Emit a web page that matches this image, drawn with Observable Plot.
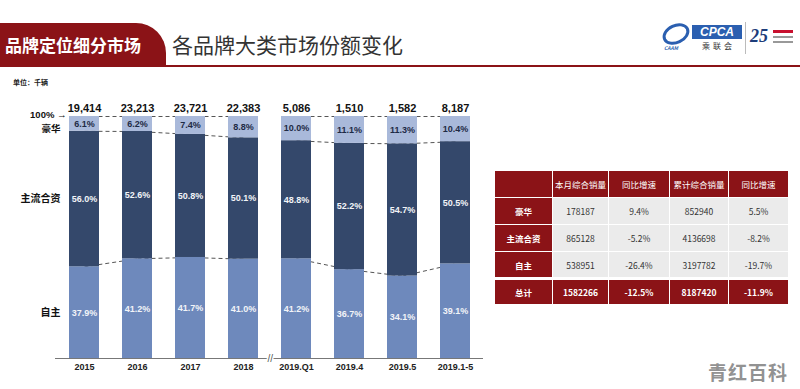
<!DOCTYPE html>
<html><head><meta charset="utf-8">
<script src="https://cdn.jsdelivr.net/npm/d3@7"></script>
<script src="https://cdn.jsdelivr.net/npm/@observablehq/plot@0.6"></script>
<style>
body{margin:0;width:800px;height:389px;overflow:hidden;background:#fff;font-family:"Noto Sans CJK SC","Liberation Sans",sans-serif;position:relative}
.abs{position:absolute}
#banner{left:0;top:23px;width:166px;height:43px;background:#8b1317;border-top-right-radius:30px;color:#fff;font-size:17px;font-weight:bold;line-height:43px;padding-left:5px;box-sizing:border-box;letter-spacing:0px}
#title{left:172px;top:29px;font-size:21px;color:#333;line-height:30px}
#rule{left:0;top:65px;width:800px;height:2px;background:#8b1317}
#unit{left:13px;top:77px;font-size:7px;color:#222;font-weight:bold}
#chart{left:0;top:95px;width:490px;height:290px}
#wm{left:708px;top:358px;font-size:19px;font-weight:bold;color:#929292;letter-spacing:1px}
.cell{position:absolute;display:flex;align-items:center;justify-content:center;font-size:8.5px;box-sizing:border-box}
</style></head><body>
<div id="banner" class="abs">品牌定位细分市场</div>
<div id="title" class="abs">各品牌大类市场份额变化</div>
<div id="rule" class="abs"></div>
<div id="unit" class="abs">单位：千辆</div>
<!-- logo approximation -->
<div class="abs" style="left:662px;top:24px;width:28px;height:20px;border-radius:50%;border:3px solid #2b5fb0;transform:rotate(-25deg);box-sizing:border-box"></div>
<div class="abs" style="left:664px;top:44px;font-size:5px;font-style:italic;font-weight:bold;color:#2b5fb0">CAAM</div>
<div class="abs" style="left:692px;top:25px;width:50px;height:14px;background:#2b5fb0;color:#fff;font:italic bold 12px 'Liberation Sans';line-height:14px;text-align:center">CPCA</div>
<div class="abs" style="left:702px;top:40px;font-size:8px;color:#333;letter-spacing:3px">乘联会</div>
<div class="abs" style="left:745px;top:22px;width:1px;height:32px;background:#bbb"></div>
<div class="abs" style="left:750px;top:26px;font:italic bold 18px 'Liberation Serif';color:#1d3d7a">25</div>
<div class="abs" style="left:773px;top:30px;width:20px;height:3px;background:#c8102e"></div>
<div class="abs" style="left:773px;top:36px;width:20px;height:2px;background:#999"></div>
<div class="abs" style="left:773px;top:41px;width:20px;height:2px;background:#999"></div>
<div id="chart" class="abs"></div>
<div id="table"></div>
<div id="wm" class="abs">青红百科</div>
<script>
// ---- chart data ----
const categories = ["2015","2016","2017","2018","2019.Q1","2019.4","2019.5","2019.1-5"];
const totals = [19414,23213,23721,22383,5086,1510,1582,8187];
const luxury = [6.1,6.2,7.4,8.8,10.0,11.1,11.3,10.4];
const jointVenture = [56.0,52.6,50.8,50.1,48.8,52.2,54.7,50.5];
const domestic = [37.9,41.2,41.7,41.0,41.2,36.7,34.1,39.1];
const seriesNames = ["自主","主流合资","豪华"];
const breakAfter = "2018";

// ---- table data ----
const tableHeader = ["","本月综合销量","同比增速","累计综合销量","同比增速"];
const tableRowNames = ["豪华","主流合资","自主","总计"];
const monthSales = ["178187","865128","538951","1582266"];
const monthYoY = ["9.4%","-5.2%","-26.4%","-12.5%"];
const ytdSales = ["852940","4136698","3197782","8187420"];
const ytdYoY = ["5.5%","-8.2%","-19.7%","-11.9%"];

// build segments
const segs = [];
const levels = [];
categories.forEach((c,i)=>{
  const s = luxury[i]+jointVenture[i]+domestic[i];
  const d = domestic[i]/s, j = (domestic[i]+jointVenture[i])/s;
  segs.push({cat:c, seg:"自主", y1:0, y2:d, v:domestic[i]});
  segs.push({cat:c, seg:"主流合资", y1:d, y2:j, v:jointVenture[i]});
  segs.push({cat:c, seg:"豪华", y1:j, y2:1, v:luxury[i]});
  levels.push([1, j, d]);
});
const links = [];
for (let i=0;i<categories.length-1;i++){
  if (categories[i]===breakAfter) continue;
  for (let k=0;k<3;k++) links.push({a:categories[i], b:categories[i+1], v1:levels[i][k], v2:levels[i+1][k]});
}
const first = segs.filter(d=>d.cat===categories[0]);

const plot = Plot.plot({
  width: 490, height: 290,
  marginTop: 21, marginBottom: 27, marginLeft: 55, marginRight: 7,
  x: {domain: categories, paddingInner: 0.44, paddingOuter: 0.22, label: null, tickSize: 0, tickPadding: 5},
  y: {domain: [0,1], axis: null},
  color: {domain: seriesNames, range: ["#6e89bc","#34486b","#a9b9da"]},
  style: {fontFamily: '"Liberation Sans","Noto Sans CJK SC",sans-serif', fontSize: "9px", fontWeight: "bold", color: "#222", background: "transparent"},
  marks: [
    Plot.link(links, {x1:"a", x2:"b", y1:"v1", y2:"v2", curve:"linear", stroke:"#555", strokeWidth:1, strokeDasharray:"4,3"}),
    Plot.barY(segs, {x:"cat", y1:"y1", y2:"y2", fill:"seg"}),
    Plot.ruleY([0], {stroke:"#777", strokeWidth:1}),
    Plot.text([breakAfter], {x: d=>d, y: ()=>0, text: ()=>"//", dx: 26.75, fontSize: 10, fontWeight: "normal", fill:"#555", stroke:"white", strokeWidth:3, paintOrder:"stroke"}),
    Plot.text(segs, {x:"cat", y: d=>(d.y1+d.y2)/2, text: d=>d.v.toFixed(1)+"%", fontSize: 9, fontWeight:"bold",
      fill: d=>d.seg==="豪华" ? "#1e2a45" : "#f2f4f8"}),
    Plot.text(categories, {x: d=>d, y: ()=>1, text: (d,i)=>d3.format(",")(totals[i]), dy: -8, fontSize: 11, fontWeight:"bold", fill:"#111"}),
    Plot.text([1], {x: ()=>categories[0], y: d=>d, text: ()=>"100% →", dx: -18, dy: -1.5, textAnchor:"end", fontSize:9.5, fontWeight:"bold", fill:"#111"}),
    Plot.text(first.filter(d=>d.seg==="豪华"), {x:"cat", y: d=>(d.y1+d.y2)/2, text:"seg", dx:-24, dy:5, textAnchor:"end", fontSize:9.5, fontWeight:"bold", fill:"#111", fontFamily:"Noto Sans CJK SC"}),
    Plot.text(first.filter(d=>d.seg!=="豪华"), {x:"cat", y: d=>(d.y1+d.y2)/2, text:"seg", dx:-24, textAnchor:"end", fontSize:10, fontWeight:"bold", fill:"#111", fontFamily:"Noto Sans CJK SC"})
  ]
});
document.getElementById("chart").appendChild(plot);

// ---- table ----
const colEdges = [495,552,608,669,728,788];
const rowEdges = [[171,197],[197,224],[224,251],[251,277],[279,304]];
const red = "#8b1317";
const tbl = document.getElementById("table");
function cell(r,c,text,bg,color,weight){
  const el = document.createElement("div");
  el.className="cell";
  el.style.left = (colEdges[c]+(c>0?1:0))+"px";
  el.style.width = (colEdges[c+1]-colEdges[c]-(c>0?1:0))+"px";
  el.style.top = (rowEdges[r][0]+(r>0?1:0))+"px";
  el.style.height = (rowEdges[r][1]-rowEdges[r][0]-(r>0?1:0))+"px";
  el.style.background = bg; el.style.color = color; el.style.fontWeight = weight;
  el.textContent = text;
  tbl.appendChild(el);
}
tableHeader.forEach((t,c)=>cell(0,c,t,red,"#fff","normal"));
tableRowNames.forEach((name,i)=>{
  const total = i===tableRowNames.length-1;
  const bg = total ? red : "#ebebeb";
  const fg = total ? "#fff" : "#333";
  cell(i+1,0,name,red,"#fff","bold");
  [monthSales[i],monthYoY[i],ytdSales[i],ytdYoY[i]].forEach((v,k)=>cell(i+1,k+1,v,bg,fg,total?"bold":"normal"));
});
</script>
</body></html>
